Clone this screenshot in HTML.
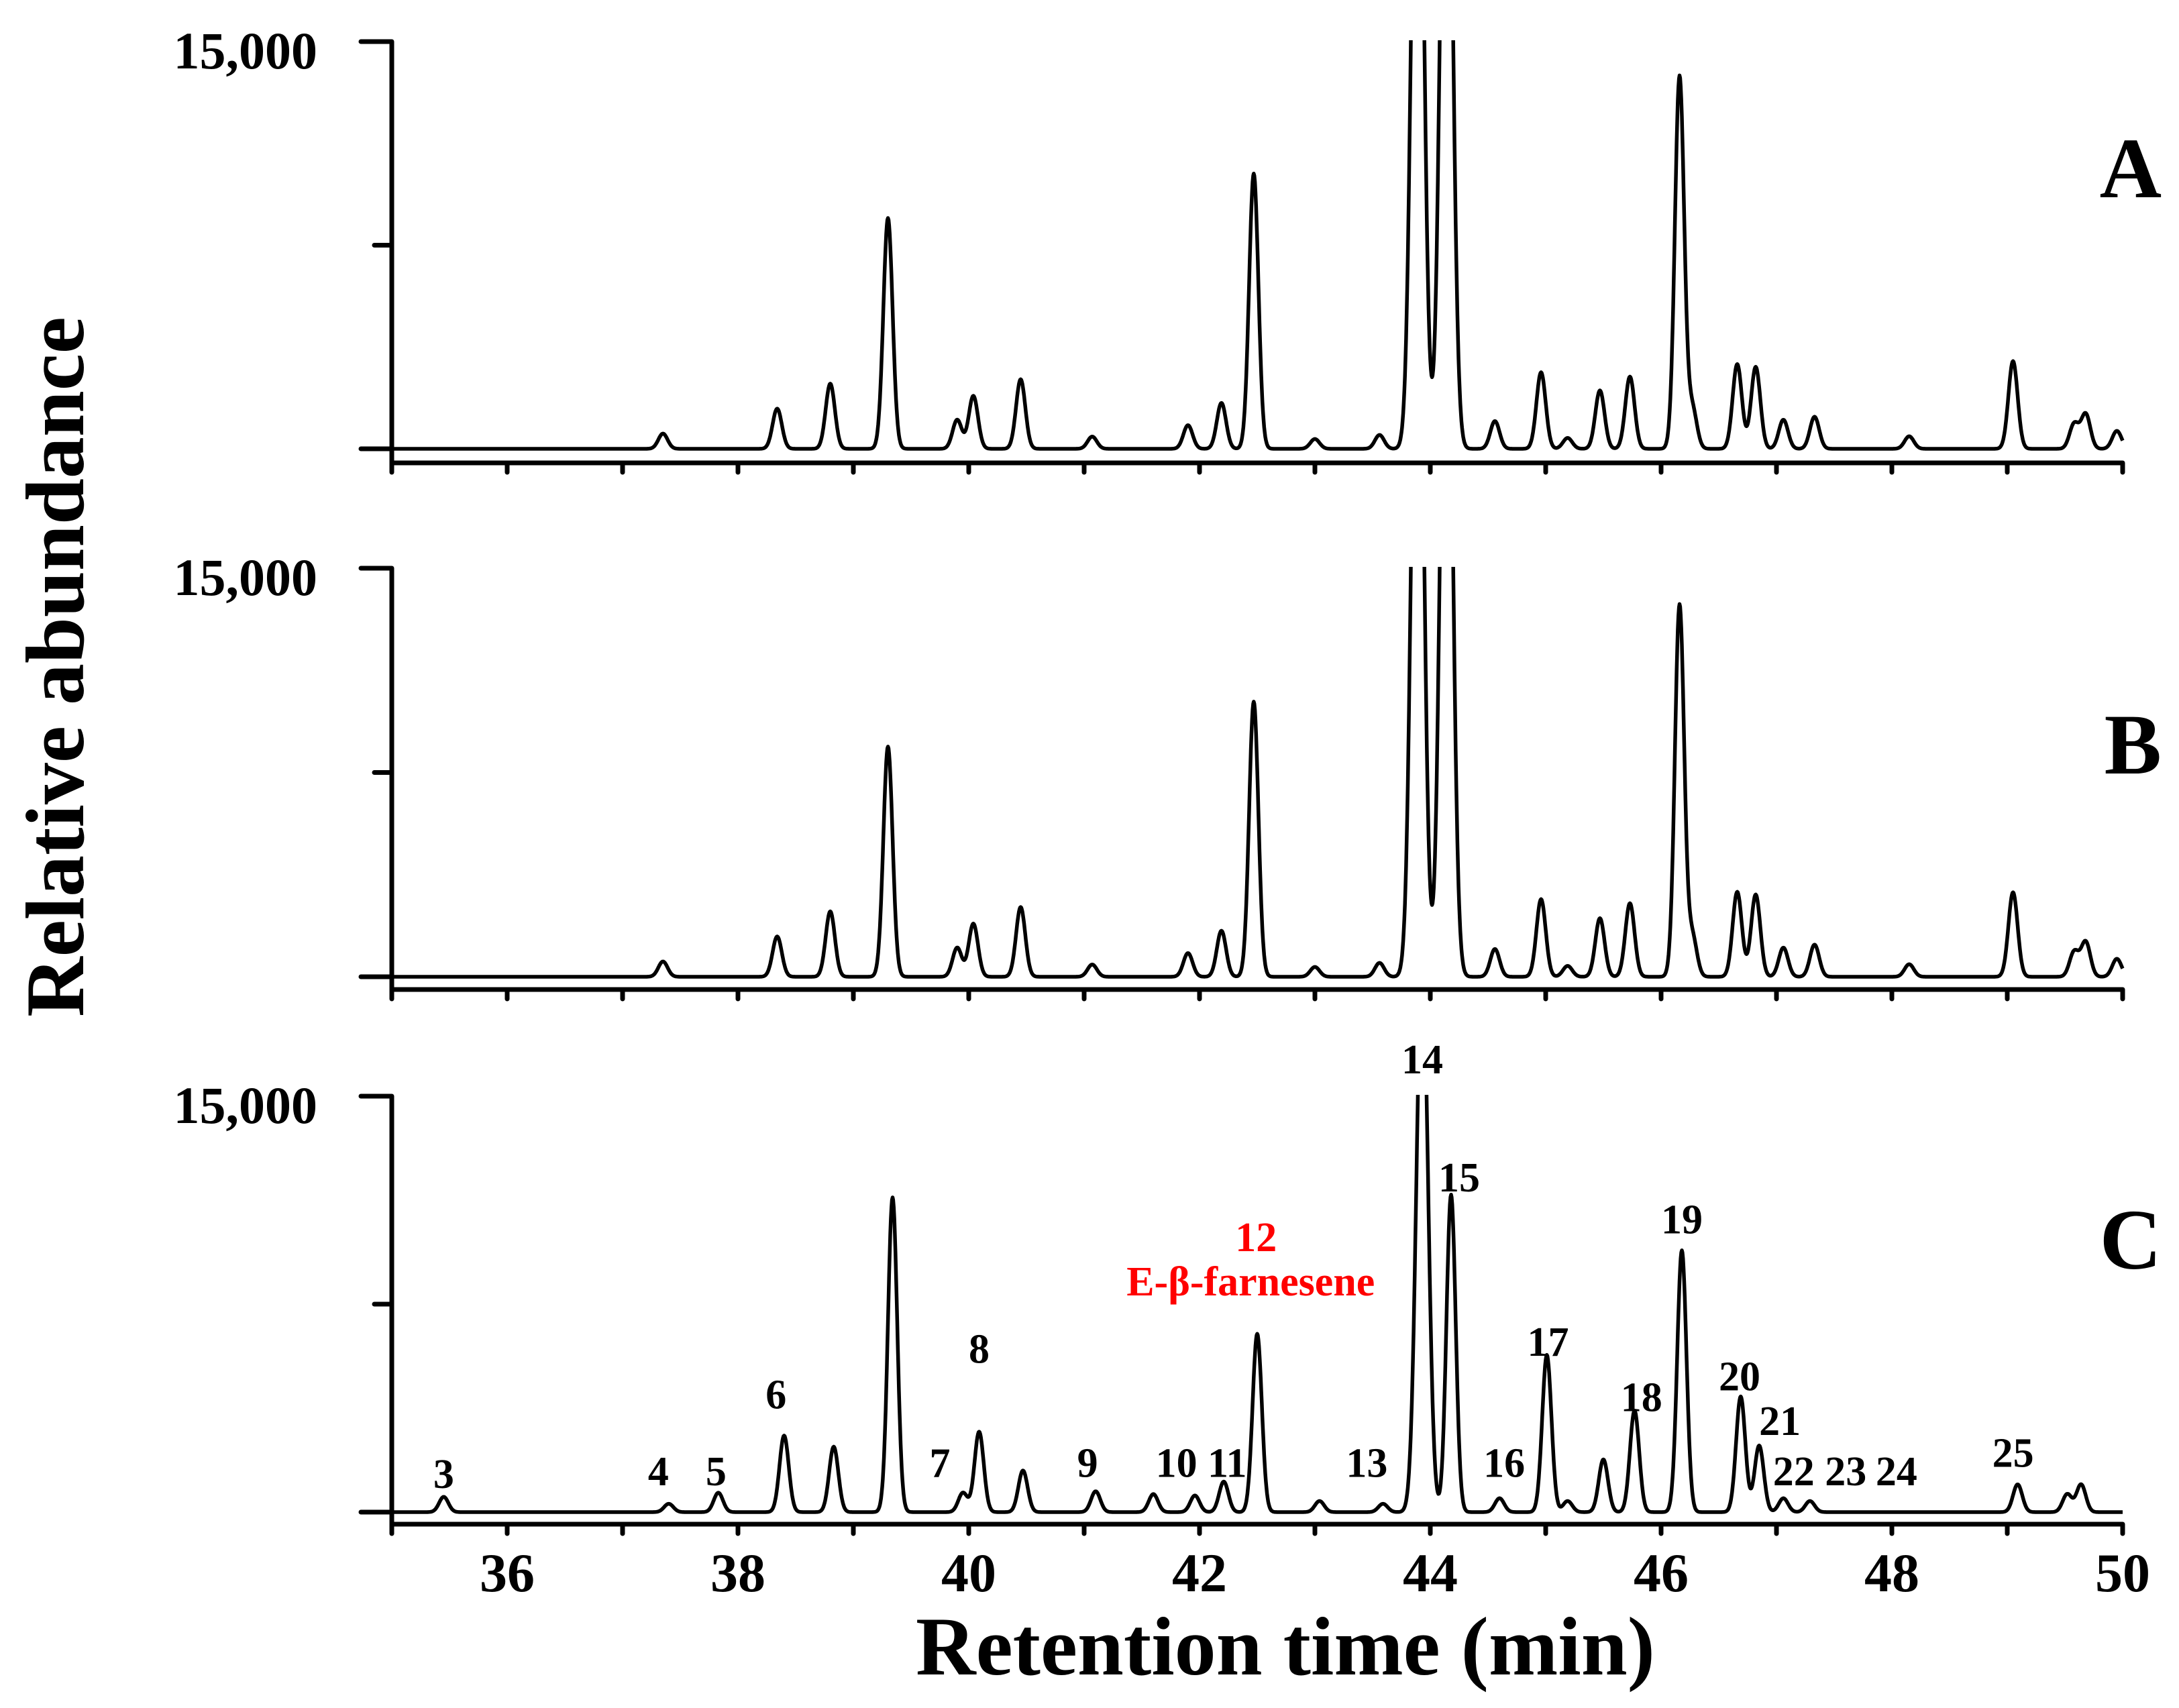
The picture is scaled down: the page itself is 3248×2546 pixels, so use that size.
<!DOCTYPE html>
<html><head><meta charset="utf-8"><style>
html,body{margin:0;padding:0;background:#fff;}
svg{display:block;font-family:"Liberation Serif",serif;font-weight:bold;}
</style></head><body>
<svg id="chart" width="3248" height="2546" viewBox="0 0 3248 2546" xmlns="http://www.w3.org/2000/svg">
<text x="1916" y="2496" font-size="124" text-anchor="middle">Retention time (min)</text>
<text transform="translate(124,994) rotate(-90)" font-size="124" text-anchor="middle">Relative abundance</text>
</svg>
<script>
// Panel A peaks
const timesA = [37.35,38.34,38.8,39.3,39.9,40.04,40.45,41.07,41.9,42.19,42.47,43.0,43.56,43.89,44.14,44.56,44.96,45.19,45.47,45.73,46.16,46.27,46.66,46.82,47.06,47.33,48.15,49.05,49.58,49.68,49.95];
const heightsA = [560,1480,2400,8500,1070,1950,2560,450,870,1690,10140,360,510,30000,30000,1020,2820,400,2150,2660,13720,1500,3120,3020,1070,1180,460,3230,920,1280,660];
// Panel B peaks
const timesB = [37.35,38.34,38.8,39.3,39.9,40.04,40.45,41.07,41.9,42.19,42.47,43.0,43.56,43.89,44.14,44.56,44.96,45.19,45.47,45.73,46.16,46.27,46.66,46.82,47.06,47.33,48.15,49.05,49.58,49.68,49.95];
const heightsB = [560,1480,2400,8450,1070,1950,2560,450,870,1690,10100,360,510,30000,30000,1020,2850,400,2150,2700,13650,1500,3120,3020,1070,1180,460,3100,920,1280,660];
// Panel C peaks
const timesC = [35.45,37.4,37.83,38.4,38.83,39.34,39.95,40.09,40.47,41.1,41.6,41.96,42.21,42.5,43.04,43.59,43.93,44.18,44.6,45.01,45.19,45.5,45.77,46.18,46.69,46.85,47.06,47.29,49.09,49.52,49.64];
const heightsC = [550,300,700,2760,2360,11350,700,2900,1500,750,650,600,1100,6430,400,300,20000,11450,500,5670,400,1900,3660,9440,4170,2400,500,400,1000,650,1000];
// Peak labels for panel C
const peakLabels = ["3","4","5","6","7","8","9","10","11","12","13","14","15","16","17","18","19","20","21","22","23","24","25"];
const peakLabelTimes = [35.45,37.31,37.81,38.33,39.75,40.09,41.03,41.8,42.24,42.49,43.45,43.93,44.25,44.64,45.02,45.83,46.18,46.68,47.03,47.15,47.6,48.04,49.05];
const peakLabelValues = [1400,1500,1500,4270,1800,5920,1800,1800,1800,9940,1800,16360,12100,1800,6170,4170,10590,4920,3310,1500,1500,1500,2160];
const xTicks = [35,36,37,38,39,40,41,42,43,44,45,46,47,48,49,50];
const xTickLabels = ["36","38","40","42","44","46","48","50"];

const svg = document.getElementById('chart');
const NS = 'http://www.w3.org/2000/svg';
const X0 = 584, PXMIN = 172;
function xScale(t){ return X0 + (t-35)*PXMIN; }
function mk(tag, attrs){ const e=document.createElementNS(NS,tag); for(const k in attrs) e.setAttribute(k,attrs[k]); svg.appendChild(e); return e; }

const panels = [
  {id:'a', letter:'A', times:timesA, heights:heightsA, top:62, base:669, axisY:690, letterY:294},
  {id:'b', letter:'B', times:timesB, heights:heightsB, top:847, base:1456, axisY:1475, letterY:1153},
  {id:'c', letter:'C', times:timesC, heights:heightsC, top:1634, base:2254, axisY:2272, letterY:1891}
];

panels.forEach(p => {
  const yScale = v => p.base - v/15000*(p.base-p.top);
  const cp = mk('clipPath',{id:'clip-'+p.id});
  const r = document.createElementNS(NS,'rect');
  r.setAttribute('x',X0); r.setAttribute('y',p.top-2); r.setAttribute('width',2600); r.setAttribute('height',p.axisY-p.top);
  cp.appendChild(r);
  let e = mk('line',{x1:X0,y1:p.top,x2:X0,y2:p.axisY+12,stroke:'#000','stroke-width':7});
  
  
  [[15000,46],[7500,26],[0,46]].forEach(([v,len]) => {
    const t = mk('line',{x1:X0-len,y1:yScale(v),x2:X0,y2:yScale(v),stroke:'#000','stroke-width':7,'stroke-linecap':'round'});
    
    
  });
  const yl = mk('text',{x:473,y:p.top+40,'font-size':78,'text-anchor':'end'});
  yl.textContent='15,000';
  
  
  e = mk('line',{x1:X0,y1:p.axisY,x2:xScale(50),y2:p.axisY,stroke:'#000','stroke-width':7});
  
  
  xTicks.forEach(t => {
    const tk = mk('line',{x1:xScale(t),y1:p.axisY,x2:xScale(t),y2:p.axisY+14,stroke:'#000','stroke-width':7,'stroke-linecap':'round'});
    
    
  });
  if(p.id==='c'){
    xTickLabels.forEach(s => {
      const tl = mk('text',{x:xScale(+s),y:p.axisY+100,'font-size':82,'text-anchor':'middle'});
      tl.textContent=s;
      
      
    });
  }
  let d='';
  for(let i=0;i<=3000;i++){
    const t = 35 + i*0.005;
    let v = 0;
    for(let k=0;k<p.times.length;k++){
      const s = p.heights[k] > 15000 ? 0.05 : 0.04;
      const dt = t - p.times[k];
      v += p.heights[k]*Math.exp(-dt*dt/(2*s*s));
    }
    d += (i? 'L':'M') + xScale(t).toFixed(1) + ' ' + yScale(v).toFixed(1);
  }
  const path = mk('path',{d:d,fill:'none',stroke:'#000','stroke-width':5.5,'stroke-linejoin':'round','clip-path':'url(#clip-'+p.id+')'});
  
  
  const lt = mk('text',{x:3222,y:p.letterY,'font-size':128,'text-anchor':'end'});
  lt.textContent=p.letter;
  
  
  if(p.id==='c'){
    peakLabels.forEach((s,i) => {
      const red = s==='12';
      const tx = mk('text',{x:xScale(peakLabelTimes[i]),y:yScale(peakLabelValues[i])+22,'font-size':62,'text-anchor':'middle',fill:red?'#ff0000':'#000'});
      tx.textContent=s;
      
      
      if(red){
        const n = mk('text',{x:xScale(peakLabelTimes[i])-8,y:yScale(peakLabelValues[i])+88,'font-size':62,'text-anchor':'middle',fill:'#ff0000'});
        n.textContent='E-β-farnesene';
        
        
      }
    });
  }
});
</script>
</body></html>
